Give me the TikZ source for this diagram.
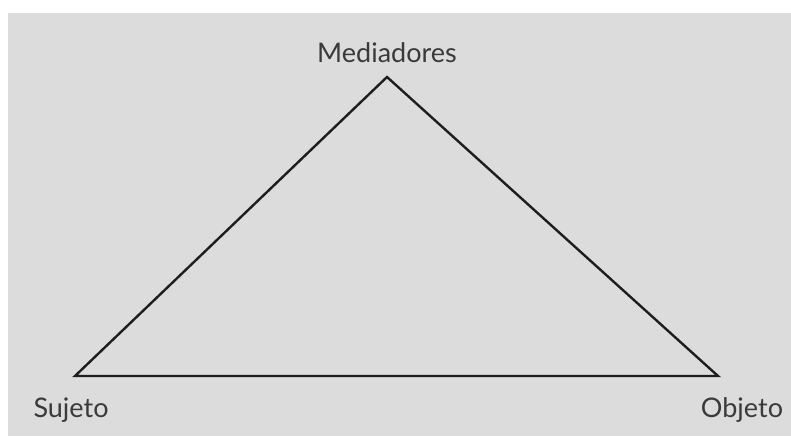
\documentclass[tikz,border=0pt]{standalone}
\usepackage{fontspec}
\setmainfont{Lato}
\definecolor{bg}{HTML}{DCDCDC}
\definecolor{txt}{HTML}{3A3A3A}
\definecolor{ln}{HTML}{1E1E1E}
\tikzset{lbl/.style={font=\fontsize{27}{30}\selectfont, text=txt, inner sep=0pt, anchor=base}}
\begin{document}
\begin{tikzpicture}[x=1pt,y=-1pt]
\useasboundingbox (0,0) rectangle (791,436);
\fill[white] (0,0) rectangle (791,436);
\fill[bg] (8,13) rectangle (791,436);
\coordinate (m) at (387,77);
\coordinate (s) at (75,376);
\coordinate (o) at (718,376);
\draw[ln, line width=2.4pt, line join=miter] (s) -- (m) -- (o) -- cycle;
\node[lbl] (ml) at (387,62) {Mediadores};
\node[lbl] (sl) at (71,417) {Sujeto};
\node[lbl] (ol) at (742,417) {Objeto};
\end{tikzpicture}
\end{document}
